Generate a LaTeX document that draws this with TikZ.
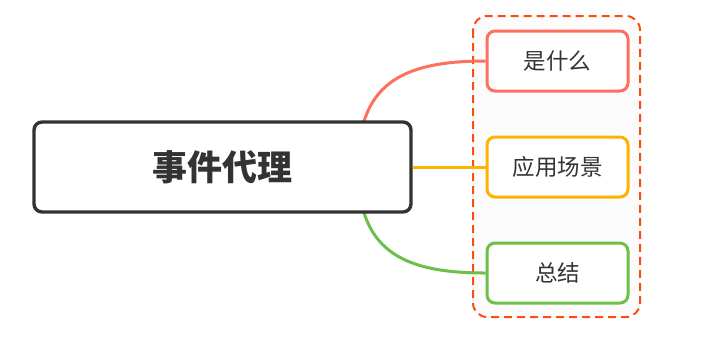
\documentclass[tikz,border=0pt]{standalone}
\usepackage{fontspec}
\newfontfamily\cjk{Noto Sans CJK SC}
\definecolor{ink}{HTML}{333333}
\definecolor{cred}{HTML}{FF6F5E}
\definecolor{corange}{HTML}{FFB300}
\definecolor{cgreen}{HTML}{6CC04A}
\definecolor{cdash}{HTML}{FF4A10}
\tikzset{
  mainbox/.style={draw=ink, line width=3.4pt, rounded corners=8pt, fill=white, minimum width=377pt, minimum height=90pt, inner sep=0pt, text=ink, font=\cjk\bfseries\fontsize{35}{38}\selectfont},
  childbox/.style={line width=3pt, rounded corners=8pt, fill=white, minimum width=141pt, minimum height=60pt, inner sep=0pt, text=ink, font=\cjk\fontsize{22.5}{26}\selectfont},
  conn/.style={line width=3pt}
}
\begin{document}
\begin{tikzpicture}[x=1pt,y=-1pt]
\useasboundingbox (0,0) rectangle (725,360);
\draw[cdash, dash pattern=on 8pt off 5pt, line width=2pt, rounded corners=14pt, fill={rgb,255:red,252;green,252;blue,252}] (473,16) rectangle (640,317);
\node[childbox, draw=cred] (c1) at (557.5,61) {是什么};
\node[childbox, draw=corange] (c2) at (557.5,167) {应用场景};
\node[childbox, draw=cgreen] (c3) at (557.5,273) {总结};
\coordinate (s1) at (358,167);
\draw[conn, cred] (s1) .. controls (358,85) and (400,61) .. (c1.west);
\draw[conn, cgreen] (s1) .. controls (358,249) and (400,273) .. (c3.west);
\node[mainbox] (m) at (222.5,167) {事件代理};
\draw[conn, corange] (m.east) -- (c2.west);
\end{tikzpicture}
\end{document}
